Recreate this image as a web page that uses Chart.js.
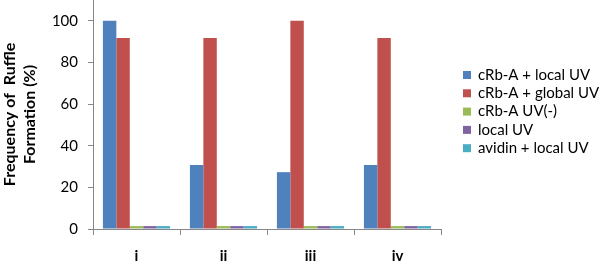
<!DOCTYPE html>
<html>
<head>
<meta charset="utf-8">
<script src="https://cdn.jsdelivr.net/npm/chart.js@4/dist/chart.umd.min.js"></script>
<style>
html,body{margin:0;padding:0;background:#fff;}
#wrap{position:relative;width:600px;height:263px;}
</style>
</head>
<body>
<div id="wrap"><canvas id="c" width="600" height="263"></canvas></div>
<script>
const categories = ['i', 'ii', 'iii', 'iv'];
const seriesNames = ['cRb-A + local UV', 'cRb-A + global UV', 'cRb-A UV(-)', 'local UV', 'avidin + local UV'];
const localUV_cRbA = [100, 30.8, 27.3, 30.8];
const globalUV_cRbA = [91.7, 91.7, 100, 91.7];
const noUV_cRbA = [1.4, 1.4, 1.4, 1.4];
const localUV_only = [1.4, 1.4, 1.4, 1.4];
const avidin_localUV = [1.4, 1.4, 1.4, 1.4];
const yTicks = [0, 20, 40, 60, 80, 100];
const colors = ['#4F81BD', '#C0504D', '#9BBB59', '#8064A2', '#4BACC6'];

const seriesValues = [localUV_cRbA, globalUV_cRbA, noUV_cRbA, localUV_only, avidin_localUV];

const legendPlugin = {
  id: 'customLegend',
  afterDraw(chart) {
    const ctx = chart.ctx;
    ctx.save();
    ctx.font = '15px Lato';
    ctx.textBaseline = 'middle';
    ctx.textAlign = 'left';
    chart.data.datasets.forEach((ds, i) => {
      const y = 75 + i * 18.3;
      ctx.fillStyle = ds.backgroundColor;
      ctx.fillRect(463, y - 4, 8, 8);
      ctx.fillStyle = '#000';
      ctx.fillText(ds.label, 478, y);
    });
    ctx.restore();
  }
};

new Chart(document.getElementById('c'), {
  type: 'bar',
  data: {
    labels: categories,
    datasets: seriesNames.map((n, i) => ({
      label: n,
      data: seriesValues[i],
      backgroundColor: colors[i],
      borderWidth: 0,
      categoryPercentage: 0.772,
      barPercentage: 1
    }))
  },
  options: {
    responsive: false,
    animation: false,
    devicePixelRatio: 1,
    layout: { padding: { left: 0, right: 159, top: 0, bottom: 0 } },
    plugins: { legend: { display: false }, tooltip: { enabled: false } },
    scales: {
      x: {
        grid: { display: true, drawOnChartArea: false, drawTicks: true, tickLength: 6, color: '#868686', offset: true },
        border: { display: true, color: '#868686', width: 1 },
        ticks: { color: '#000', font: { family: 'Lato', size: 15, weight: 'bold' }, padding: 12 },
        afterFit(s) { s.height = 34; s.paddingLeft = 0; s.paddingRight = 0; }
      },
      y: {
        min: 0, max: 110,
        afterBuildTicks(s) { s.ticks = yTicks.map(v => ({ value: v })); },
        grid: { display: true, drawOnChartArea: false, drawTicks: true, tickLength: 5, color: '#868686' },
        border: { display: true, color: '#868686', width: 1 },
        ticks: { color: '#000', font: { family: 'Lato', size: 15 }, padding: 10 },
        title: {
          display: true,
          text: ['Frequency of  Ruffle', 'Formation (%)'],
          color: '#000',
          font: { family: 'Lato', size: 16, weight: 'bold', lineHeight: 1.25 },
          padding: { top: 0, bottom: 0 }
        },
        afterFit(s) { s.width = 93; s.paddingTop = 0; s.paddingBottom = 0; }
      }
    }
  },
  plugins: [legendPlugin]
});
</script>
</body>
</html>
